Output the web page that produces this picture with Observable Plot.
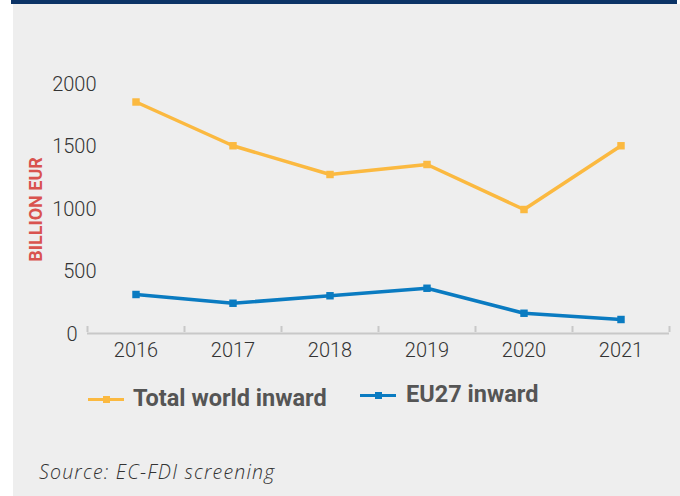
<!DOCTYPE html>
<html><head><meta charset="utf-8">
<script src="https://cdn.jsdelivr.net/npm/d3@7"></script>
<script src="https://cdn.jsdelivr.net/npm/@observablehq/plot@0.6"></script>
<style>
html,body{margin:0;padding:0;background:#fff;width:680px;height:496px;overflow:hidden;}
#panel{position:absolute;left:13px;top:4px;width:667px;height:492px;background:#eeeeee;}
#bar{position:absolute;left:11px;top:0;width:666px;height:4px;background:#0b3366;}
#chart{position:absolute;left:0;top:0;}
.leg{position:absolute;font-family:"Roboto",sans-serif;font-weight:bold;color:#555;font-size:23.5px;line-height:1;white-space:nowrap;}
.sw{position:absolute;height:3px;width:36px;}
.sq{position:absolute;width:7px;height:7px;}
#cap{position:absolute;left:39px;top:458px;font-family:"Open Sans",sans-serif;font-style:italic;font-weight:300;font-size:19.5px;letter-spacing:1.2px;color:#333;white-space:nowrap;}
</style></head><body>
<div id="panel"></div>
<div id="bar"></div>
<div id="chart"></div>
<div id="legend"></div>
<div id="cap">Source: EC-FDI screening</div>
<script>
const years = [2016, 2017, 2018, 2019, 2020, 2021];
const worldInward = [1860, 1510, 1280, 1360, 1000, 1510];
const eu27Inward = [320, 250, 310, 370, 170, 120];
const seriesNames = ["Total world inward", "EU27 inward"];
const seriesColors = ["#fbb940", "#0a7bc1"];
const yTicks = [0, 500, 1000, 1500, 2000];
const yTitle = "BILLION EUR";

const rows = [];
years.forEach((y, i) => {
  rows.push({year: y, value: worldInward[i], series: seriesNames[0]});
  rows.push({year: y, value: eu27Inward[i], series: seriesNames[1]});
});
const bounds = years.map(y => y - 0.5).concat([years[years.length - 1] + 0.5]);

const font = '"Roboto",sans-serif';
const chart = Plot.plot({
  width: 680,
  height: 362,
  marginLeft: 87,
  marginRight: 11,
  marginTop: 84,
  marginBottom: 28,
  style: {background: "transparent", fontFamily: font, color: "#333", overflow: "visible"},
  x: {type: "linear", domain: [bounds[0], bounds[bounds.length - 1]], label: null},
  y: {domain: [0, 2000], label: null},
  color: {domain: seriesNames, range: seriesColors},
  marks: [
    Plot.ruleY([0], {stroke: "#c8c8c8", strokeWidth: 2, dy: -1}),
    Plot.axisX({ticks: bounds, tickSize: -6, stroke: "#c8c8c8", strokeWidth: 2, tickFormat: () => "", dy: -2, label: null}),
    Plot.axisX({ticks: years, tickSize: 0, tickPadding: 8, tickFormat: d => String(d), fontSize: 20, fontWeight: 300, fill: "#333", label: null}),
    Plot.axisY({ticks: yTicks.filter(d => d > 0), tickSize: 0, tickPadding: 0, dx: 9, tickFormat: d => String(d), fontSize: 20, fontWeight: 300, fill: "#333", label: null}),
    Plot.axisY({ticks: [0], tickSize: 0, tickPadding: 0, dx: -10, tickFormat: d => String(d), fontSize: 20, fontWeight: 300, fill: "#333", label: null}),
    Plot.text([yTitle], {frameAnchor: "left", textAnchor: "middle", dx: -51, rotate: -90, text: d => d, fill: "#d9534f", fontWeight: "bold", fontSize: 18}),
    Plot.line(rows, {x: "year", y: "value", z: "series", stroke: "series", strokeWidth: 3.5}),
    Plot.dot(rows, {x: "year", y: "value", fill: "series", symbol: "square", r: 4.2})
  ]
});
document.getElementById("chart").appendChild(chart);

const legend = document.getElementById("legend");
const legPos = [{sx: 88, sy: 398, tx: 133, ty: 387}, {sx: 360, sy: 394, tx: 406, ty: 383}];
seriesNames.forEach((name, i) => {
  const p = legPos[i];
  const sw = document.createElement("div");
  sw.className = "sw"; sw.style.left = p.sx + "px"; sw.style.top = p.sy + "px"; sw.style.background = seriesColors[i];
  const sq = document.createElement("div");
  sq.className = "sq"; sq.style.left = (p.sx + 15) + "px"; sq.style.top = (p.sy - 2) + "px"; sq.style.background = seriesColors[i];
  const t = document.createElement("div");
  t.className = "leg"; t.style.left = p.tx + "px"; t.style.top = p.ty + "px"; t.textContent = name;
  legend.append(sw, sq, t);
});
</script>
</body></html>
